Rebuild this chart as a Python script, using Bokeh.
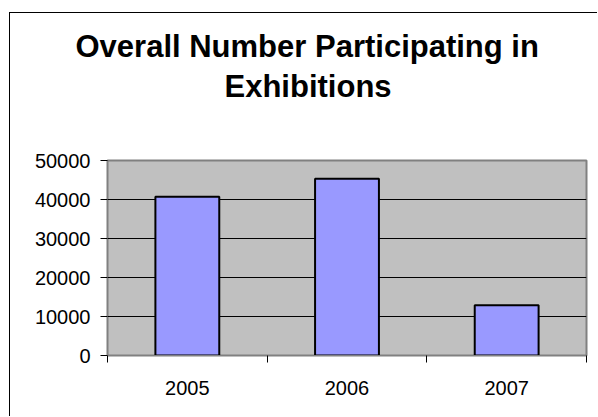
from bokeh.plotting import figure
from bokeh.models import (ColumnDataSource, FixedTicker, Range1d, Title,
                          LinearAxis, NumeralTickFormatter)
from bokeh.embed import file_html
from bokeh.resources import INLINE

# ---- data ----
years = ["2005", "2006", "2007"]
participants = [40700, 45300, 12900]
y_ticks = [0, 10000, 20000, 30000, 40000, 50000]
title_lines = ["Overall Number Participating in", "Exhibitions"]

x_pos = [i + 0.5 for i in range(len(years))]
boundaries = list(range(len(years) + 1))

source = ColumnDataSource(dict(x=x_pos, year=years, value=participants))

FONT = "Liberation Sans"

p = figure(width=588, height=404, output_backend="svg", toolbar_location=None,
           x_range=Range1d(0, len(years)), y_range=Range1d(0, y_ticks[-1]),
           title=None,
           min_border_left=97, min_border_right=12,
           min_border_top=147, min_border_bottom=62)
p.styles = {"border-left": "1px solid #000000", "border-top": "1px solid #000000",
            "margin-left": "9px", "margin-top": "12px"}

p.background_fill_color = "#C0C0C0"
p.border_fill_color = "white"
p.outline_line_color = "#808080"
p.outline_line_width = 2

p.vbar(x="x", top="value", bottom=0, width=0.4, source=source,
       fill_color="#9999FF", line_color="black", line_width=2)

# x axis
xa = p.xaxis[0]
xa.ticker = FixedTicker(ticks=x_pos, minor_ticks=boundaries)
xa.major_label_overrides = {x: y for x, y in zip(x_pos, years)}
xa.major_tick_out = 0
xa.major_tick_in = 0
xa.minor_tick_out = 7
xa.minor_tick_in = 0
xa.minor_tick_line_color = "black"
xa.axis_line_color = "#808080"
xa.major_label_standoff = 18
xa.major_label_text_font = FONT
xa.major_label_text_font_size = "20px"
xa.major_label_text_color = "black"

# y axis
ya = p.yaxis[0]
ya.ticker = FixedTicker(ticks=y_ticks)
ya.formatter = NumeralTickFormatter(format="0")
ya.major_tick_out = 7
ya.major_tick_in = 0
ya.minor_tick_line_color = None
ya.major_tick_line_color = "black"
ya.axis_line_color = "#808080"
ya.major_label_standoff = 10
ya.major_label_text_font = FONT
ya.major_label_text_font_size = "20px"
ya.major_label_text_color = "black"

p.xgrid.visible = False
p.ygrid.ticker = FixedTicker(ticks=y_ticks)
p.ygrid.grid_line_color = "black"
p.ygrid.grid_line_width = 1

# invisible spacer between title and plot area
spacer = LinearAxis(ticker=FixedTicker(ticks=[x_pos[0]]), axis_line_color=None,
                    major_tick_line_color=None, minor_tick_line_color=None,
                    major_tick_out=57, major_tick_in=0, major_label_standoff=0,
                    major_label_overrides={x_pos[0]: ""},
                    major_label_text_font_size="1px")
p.add_layout(spacer, "above")

t2 = Title(text=title_lines[1], align="left", offset=117, standoff=0,
           vertical_align="bottom", text_font=FONT, text_font_size="31px",
           text_font_style="bold", text_color="black")
p.add_layout(t2, "above")
t1 = Title(text=title_lines[0], align="left", offset=-32, standoff=5,
           vertical_align="bottom", text_font=FONT, text_font_size="31px",
           text_font_style="bold", text_color="black")
p.add_layout(t1, "above")

open("out.html", "w").write(file_html(p, INLINE))
